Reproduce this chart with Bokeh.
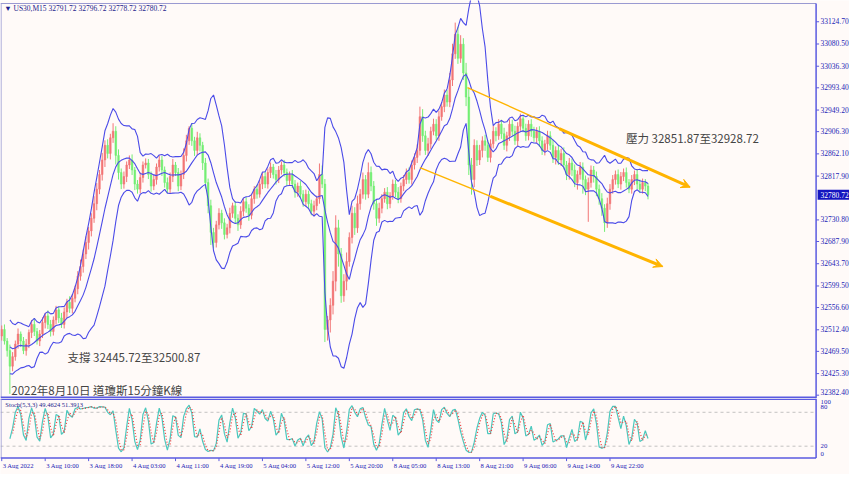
import numpy as np
import pandas as pd
from bokeh.plotting import figure
from bokeh.models import Range1d, Arrow, VeeHead, ColumnDataSource
from bokeh.layouts import column
from bokeh.embed import file_html
from bokeh.resources import INLINE
from bokeh.core.properties import value

# ---------------- data (30-minute bars) ----------------
first_open = 32500
close = [
    32513, 32490, 32471, 32440, 32459, 32484, 32504, 32490, 32471, 32484,
    32507, 32523, 32509, 32490, 32504, 32527, 32540, 32523, 32509, 32532,
    32552, 32536, 32523, 32548, 32567, 32555, 32575, 32594, 32619, 32638,
    32663, 32686, 32709, 32734, 32763, 32792, 32821, 32850, 32879, 32863,
    32894, 32907, 32859, 32825, 32802, 32817, 32840, 32850, 32830, 32802,
    32792, 32815, 32840, 32844, 32821, 32798, 32811, 32836, 32850, 32830,
    32805, 32792, 32817, 32840, 32825, 32798, 32821, 32859, 32888, 32913,
    32888, 32869, 32894, 32879, 32844, 32805, 32759, 32706, 32686, 32721,
    32744, 32725, 32702, 32715, 32744, 32759, 32734, 32721, 32748, 32767,
    32754, 32740, 32773, 32792, 32782, 32802, 32817, 32802, 32825, 32836,
    32821, 32811, 32830, 32840, 32825, 32809, 32821, 32802, 32786, 32798,
    32782, 32767, 32782, 32763, 32748, 32759, 32773, 32821, 32802, 32513,
    32532, 32561, 32609, 32715, 32663, 32580, 32609, 32648, 32696, 32744,
    32715, 32763, 32782, 32811, 32782, 32825, 32798, 32763, 32734, 32754,
    32773, 32786, 32763, 32779, 32802, 32786, 32773, 32798, 32811, 32825,
    32811, 32840, 32855, 32869, 32936, 32898, 32869, 32882, 32907, 32921,
    32898, 32936, 32956, 32979, 32965, 33009, 33061, 33100, 33052, 33080,
    33023, 32975, 32840, 32811, 32879, 32850, 32869, 32888, 32879, 32855,
    32882, 32907, 32898, 32921, 32902, 32879, 32898, 32921, 32907, 32888,
    32917, 32932, 32913, 32898, 32921, 32907, 32894, 32907, 32888, 32869,
    32882, 32898, 32879, 32855, 32869, 32850, 32863, 32840, 32821, 32844,
    32830, 32805, 32821, 32836, 32811, 32792, 32805, 32830, 32817, 32792,
    32773, 32754, 32725, 32763, 32792, 32811, 32821, 32802, 32817, 32825,
    32805, 32792, 32811, 32821, 32802, 32792, 32805, 32798, 32780.72,
]
wick_up = [
    8, 10, 6, 12, 9, 7, 11, 5, 8, 10, 6, 9, 12, 7, 8, 10, 6, 11, 9, 7,
    8, 6, 10, 9, 7, 12, 8, 6, 10, 14, 9, 12, 8, 10, 15, 12, 9, 14, 10, 12,
    8, 16, 10, 12, 8, 10, 7, 9, 11, 6, 8, 10, 7, 9, 8, 6, 10, 7, 9, 8,
    7, 10, 8, 12, 6, 9, 8, 14, 12, 4, 10, 8, 12, 9, 7, 10, 8, 12, 9, 8,
    10, 7, 9, 8, 11, 6, 9, 8, 10, 7, 9, 8, 10, 6, 9, 8, 7, 10, 8, 9,
    6, 9, 8, 7, 10, 8, 6, 9, 8, 7, 10, 8, 9, 7, 8, 10, 6, 22, 18, 10,
    8, 14, 20, 25, 16, 12, 14, 18, 10, 15, 12, 16, 10, 14, 9, 20, 12, 10, 8, 11,
    9, 8, 10, 7, 9, 8, 10, 7, 9, 8, 10, 9, 8, 12, 20, 15, 10, 12, 9, 11,
    10, 12, 9, 11, 10, 14, 20, 23, 15, 18, 12, 20, 16, 14, 12, 10, 11, 9, 12, 10,
    9, 11, 8, 10, 9, 12, 8, 10, 9, 11, 8, 10, 7, 9, 8, 10, 9, 8, 10, 9,
    8, 10, 9, 11, 8, 10, 9, 12, 8, 10, 9, 11, 8, 10, 9, 8, 10, 9, 8, 10,
    9, 11, 8, 12, 10, 9, 8, 10, 9, 8, 10, 7, 9, 8, 10, 9, 8, 7, 6,
]
wick_dn = [
    9, 7, 12, 55, 10, 8, 9, 12, 7, 10, 8, 11, 9, 7, 10, 8, 12, 9, 10, 8,
    9, 10, 7, 8, 12, 9, 10, 8, 11, 9, 12, 10, 14, 11, 9, 13, 10, 12, 14, 10,
    12, 10, 18, 14, 10, 9, 11, 8, 10, 12, 9, 8, 10, 7, 9, 11, 8, 10, 9, 12,
    10, 8, 9, 11, 7, 10, 8, 9, 12, 8, 10, 11, 9, 12, 14, 12, 15, 25, 12, 10,
    9, 12, 10, 8, 11, 9, 10, 12, 8, 10, 9, 11, 8, 10, 9, 7, 10, 8, 9, 11,
    8, 10, 7, 9, 8, 10, 9, 8, 11, 9, 8, 10, 9, 11, 8, 10, 9, 10, 8, 25,
    22, 25, 18, 20, 25, 14, 12, 18, 10, 12, 14, 10, 12, 9, 11, 8, 10, 12, 15, 9,
    10, 8, 11, 9, 8, 10, 9, 8, 10, 9, 8, 10, 9, 11, 10, 12, 9, 11, 10, 8,
    9, 10, 8, 11, 9, 10, 12, 10, 11, 9, 14, 18, 20, 30, 15, 12, 10, 14, 11, 9,
    10, 9, 11, 8, 10, 9, 12, 10, 9, 8, 10, 9, 8, 10, 9, 11, 8, 10, 12, 9,
    10, 12, 9, 11, 14, 10, 12, 9, 11, 10, 12, 9, 14, 10, 28, 12, 65, 10, 12, 14,
    12, 15, 18, 10, 12, 9, 10, 8, 11, 9, 10, 8, 9, 11, 10, 8, 9, 10, 9,
]
price_ticks = [33124.70, 33080.50, 33036.30, 32993.40, 32949.20, 32906.30, 32862.10,
               32817.90, 32730.80, 32687.90, 32643.70, 32599.50, 32556.60, 32512.40,
               32469.50, 32425.30, 32382.40]
time_tick_bars = [0, 16, 32, 48, 64, 80, 96, 112, 128, 144, 160, 176, 192, 208, 224]
time_tick_labels = ["3 Aug 2022", "3 Aug 10:00", "3 Aug 18:00", "4 Aug 03:00", "4 Aug 11:00",
                    "4 Aug 19:00", "5 Aug 04:00", "5 Aug 12:00", "5 Aug 20:00", "8 Aug 05:00",
                    "8 Aug 13:00", "8 Aug 21:00", "9 Aug 06:00", "9 Aug 14:00", "9 Aug 22:00"]
stoch_levels = [20, 80]
stoch_axis_labels = ["100", "80", "20", "0"]
stoch_axis_label_pos = [99.0, 89.5, 21.2, 5.8]
last_price = 32780.72
header_text = "\u25bc  US30,M15  32791.72 32796.72 32778.72 32780.72"
stoch_text = "Stoch(5,3,3) 49.4624 51.3913"
resist_text = "壓力 32851.87至32928.72"
support_text = "支撐 32445.72至32500.87"
title_text = "2022年8月10日 道瓊斯15分鐘K線"
# trend channel: (bar, price) start -> (bar, price) end, and where the bold arrow part starts
channel_upper = (171.5, 32993.9, 253.5, 32795.9, 205.3, 32912.2)
channel_lower = (154.0, 32834.9, 243.4, 32638.2, 180.0, 32777.6)

assert len(close) == len(wick_up) == len(wick_dn)

# ---------------- derived series ----------------
c = np.array(close, dtype=float)
o = np.r_[first_open, c[:-1]]
h = np.maximum(o, c) + np.array(wick_up)
l = np.minimum(o, c) - np.array(wick_dn)
idx = np.arange(len(c))
UP, DN = "#f27676", "#74ee74"
cols = [UP if cc >= oo else DN for oo, cc in zip(o, c)]

cs = pd.Series(c)
mid = cs.rolling(10, min_periods=4).mean()
sd = cs.rolling(10, min_periods=4).std(ddof=0)
bb_up, bb_dn = mid + 2 * sd, mid - 2 * sd

def stochastic(hh, ll, cc, k, slow, d):
    H = pd.Series(hh).rolling(k).max()
    L = pd.Series(ll).rolling(k).min()
    num = (pd.Series(cc) - L).rolling(slow).sum()
    den = (H - L).rolling(slow).sum()
    K = 100 * num / den
    return K, K.rolling(d).mean()

stK, stD = stochastic(h, l, c, 3, 2, 2)

# ---------------- styling / geometry ----------------
BG = "#fffaf8"
AX = "#5a5ae0"
FRAME = "#9a9ad2"
LBL = "#2323b5"
NARROW = "Liberation Sans Narrow"
CJK = "Noto Sans CJK TC"
OR = "#ffb400"
BB = "#4b4be8"
W = 849
J_LEFT, J_RIGHT, J_AXIS = -0.457, 312.2, 299.9
P_BOT, P_TOP = 32375.81, 33166.96
XR = Range1d(J_LEFT, J_RIGHT)
PX_P = (P_TOP - P_BOT) / 398.0       # price units per pixel
S_BOT, S_TOP = -30.1, 104.4
PX_S = (S_TOP - S_BOT) / 76.0        # stoch units per pixel
BAR_PX = W / (J_RIGHT - J_LEFT)      # pixels per bar

def fig(height, yr):
    f = figure(width=W, height=height, x_range=XR, y_range=yr, output_backend="svg",
               toolbar_location=None, x_axis_location=None, y_axis_location=None,
               min_border=0, min_border_left=0, min_border_right=0, min_border_top=0,
               min_border_bottom=0, background_fill_color=BG, border_fill_color=BG,
               outline_line_color=None)
    f.grid.visible = False
    return f

# ---------------- main price panel ----------------
p = fig(398, Range1d(P_BOT, P_TOP))
top_line = P_TOP - 3 * PX_P
bot_line = P_BOT + 1.2 * PX_P
p.segment(x0=[J_LEFT, -0.25], y0=[top_line, bot_line], x1=[J_AXIS, -0.25], y1=[top_line, top_line],
          line_color=FRAME, line_width=1)

src = ColumnDataSource(dict(x=idx, h=h, l=l, top=np.maximum(o, c), bot=np.minimum(o, c), col=cols))
p.segment(x0="x", y0="h", x1="x", y1="l", line_color="col", line_width=1, source=src)
p.vbar(x="x", width=0.62, top="top", bottom="bot", fill_color="col", line_color="col",
       line_width=0.5, source=src)

for s_ in (bb_up, mid, bb_dn):
    p.line(idx, s_.values, line_color=BB, line_width=1.1)

for (x0, y0, x1, y1, xm, ym) in (channel_upper, channel_lower):
    p.segment(x0=[x0], y0=[y0], x1=[x1], y1=[y1], line_color=OR, line_width=1.4)
    p.add_layout(Arrow(end=VeeHead(size=9, fill_color=OR, line_color=OR), x_start=xm, y_start=ym,
                       x_end=x1, y_end=y1, line_color=OR, line_width=3))

# price axis drawn with glyphs
p.segment(x0=[J_LEFT], y0=[bot_line], x1=[J_AXIS], y1=[bot_line], line_color=AX, line_width=1.6)
p.segment(x0=[J_AXIS], y0=[P_BOT], x1=[J_AXIS], y1=[top_line], line_color=AX, line_width=1.5)
p.segment(x0=[J_AXIS] * len(price_ticks), y0=price_ticks,
          x1=[J_AXIS + 3 / BAR_PX] * len(price_ticks), y1=price_ticks, line_color=AX, line_width=1)
lab_src = ColumnDataSource(dict(
    x=[J_AXIS + 4.5 / BAR_PX] * len(price_ticks), y=price_ticks,
    t=[f"{t:.2f}" for t in price_ticks],
    dy=[-0.5] * (len(price_ticks) - 1) + [-3.0]))
p.text(x="x", y="y", text="t", y_offset="dy", source=lab_src, text_font=value(NARROW),
       text_font_size="7.5px", text_color=LBL, text_baseline="middle", text_align="left")
p.quad(left=[J_AXIS + 1.5 / BAR_PX], right=[J_RIGHT], top=[last_price + 5 * PX_P],
       bottom=[last_price - 5 * PX_P], fill_color="#1414c0", line_color=None)
p.text(x=[J_AXIS + 4.5 / BAR_PX], y=[last_price], text=[f"{last_price:.2f}"],
       text_font=value(NARROW), text_font_size="7.5px", text_color="white",
       text_baseline="middle", text_align="left")

p.text(x=[0.9], y=[33151.0], text=[header_text], text_font=value(NARROW),
       text_font_size="7.5px", text_color="#1c1c8c", text_baseline="middle")
p.text(x=[229.9, 24.2, 3.5], y=[32894.5, 32457.4, 32392.0],
       text=[resist_text, support_text, title_text], text_font=value(CJK),
       text_font_size="11.5px", text_color="#444444", text_baseline="middle")

# ---------------- stochastic panel ----------------
s = fig(76, Range1d(S_BOT, S_TOP))
ax_bot = -1.1
sep = S_TOP - 0.8 * PX_S
s.segment(x0=[J_LEFT] * len(stoch_levels), y0=stoch_levels, x1=[J_AXIS] * len(stoch_levels),
          y1=stoch_levels, line_color="#b4b4b4", line_dash="3 3", line_width=0.8)
s.line(idx, stK.values, line_color="#4cc8bd", line_width=1.2)
s.line(idx, stD.values, line_color="#f03c3c", line_width=1.2, line_dash="1 2")
s.segment(x0=[J_LEFT], y0=[sep], x1=[J_AXIS], y1=[sep], line_color=AX, line_width=1.6)
s.segment(x0=[-0.25], y0=[ax_bot], x1=[-0.25], y1=[S_TOP], line_color=FRAME, line_width=1)
s.segment(x0=[J_LEFT, J_AXIS], y0=[ax_bot, ax_bot], x1=[J_AXIS, J_AXIS], y1=[ax_bot, S_TOP],
          line_color=AX, line_width=1.5)
s.segment(x0=time_tick_bars, y0=[ax_bot] * len(time_tick_bars), x1=time_tick_bars,
          y1=[ax_bot - 3 * PX_S] * len(time_tick_bars), line_color=AX, line_width=1)
s.text(x=[b + 0.35 for b in time_tick_bars], y=[-14.7] * len(time_tick_bars),
       text=time_tick_labels, text_font=value(NARROW), text_font_size="6.6px",
       text_color=LBL, text_baseline="middle", text_align="left")
s.text(x=[J_AXIS + 4.5 / BAR_PX] * 4, y=stoch_axis_label_pos, text=stoch_axis_labels,
       text_font=value(NARROW), text_font_size="6.8px", text_color=LBL,
       text_baseline="middle", text_align="left")
s.text(x=[1.3], y=[93.1], text=[stoch_text], text_font=value(NARROW), text_font_size="6.5px",
       text_color="#1c1c8c", text_baseline="middle")

layout = column(p, s, spacing=0)
open("out.html", "w").write(file_html(layout, INLINE))
